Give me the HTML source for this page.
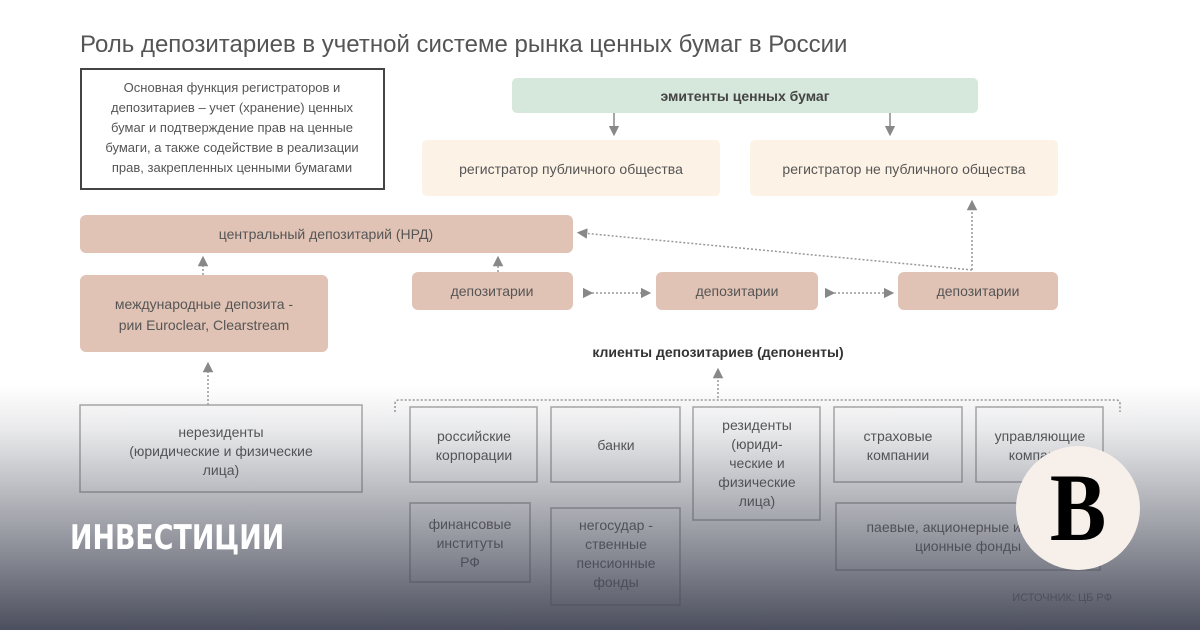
<!DOCTYPE html>
<html><head><meta charset="utf-8"><style>
body{margin:0;width:1200px;height:630px;overflow:hidden;background:#fff;position:relative;font-family:"Liberation Sans","DejaVu Sans",sans-serif}
svg{position:absolute;left:0;top:0}
.ov{position:absolute;left:0;top:0;width:1200px;height:630px;background:linear-gradient(to bottom,rgba(74,77,92,0) 0,rgba(74,77,92,0) 385px,rgba(74,77,92,0.12) 430px,rgba(74,77,92,0.55) 530px,rgba(70,73,88,0.97) 630px)}
.t{position:absolute;left:70px;top:518px;color:#fff;font-weight:bold;font-size:34px;font-family:"DejaVu Sans",sans-serif;transform:scaleX(0.79);transform-origin:0 0;white-space:nowrap}
.c{position:absolute;left:1016px;top:446px;width:124px;height:124px;border-radius:50%;background:#f7efe9;text-align:center;font-family:"Liberation Serif",serif;font-weight:bold;font-size:96px;line-height:124px;color:#000}
.c span{display:inline-block;transform:scaleX(0.88)}
</style></head><body>
<svg width="1200" height="630" font-family="Liberation Sans, DejaVu Sans, sans-serif" fill="#555">
<defs><marker id="a" markerWidth="7" markerHeight="7" refX="3.5" refY="3.5" orient="auto"><path d="M0,0L7,3.5L0,7z" fill="#888"/></marker></defs>
<text x="80" y="52" font-size="24" fill="#555">Роль депозитариев в учетной системе рынка ценных бумаг в России</text>
<rect x="81" y="69" width="303" height="120" fill="#fff" stroke="#444" stroke-width="2"/>
<g font-size="13" text-anchor="middle" fill="#555"><text x="232" y="92">Основная функция регистраторов и</text><text x="232" y="112">депозитариев – учет (хранение) ценных</text><text x="232" y="132">бумаг и подтверждение прав на ценные</text><text x="232" y="152">бумаги, а также содействие в реализации</text><text x="232" y="172">прав, закрепленных ценными бумагами</text></g>
<rect x="512" y="78" width="466" height="35" rx="5" fill="#d6e7dc"/>
<text x="745" y="101" font-size="14" font-weight="bold" text-anchor="middle" fill="#444">эмитенты ценных бумаг</text>
<g stroke="#888" stroke-width="1.5" fill="none"><path d="M614 113V131" marker-end="url(#a)"/><path d="M890 113V131" marker-end="url(#a)"/></g>
<rect x="422" y="140" width="298" height="56" rx="5" fill="#fdf2e6"/><rect x="750" y="140" width="308" height="56" rx="5" fill="#fdf2e6"/>
<g font-size="14" text-anchor="middle" fill="#555"><text x="571" y="174">регистратор публичного общества</text><text x="904" y="174">регистратор не публичного общества</text></g>
<g fill="#e1c3b5"><rect x="80" y="215" width="493" height="38" rx="6"/><rect x="80" y="275" width="248" height="77" rx="6"/><rect x="412" y="272" width="161" height="38" rx="6"/><rect x="656" y="272" width="162" height="38" rx="6"/><rect x="898" y="272" width="160" height="38" rx="6"/></g>
<g font-size="14" text-anchor="middle" fill="#555"><text x="326" y="239">центральный депозитарий (НРД)</text><text x="204" y="309">международные депозита -</text><text x="204" y="330">рии Euroclear, Clearstream</text><text x="492" y="296">депозитарии</text><text x="737" y="296">депозитарии</text><text x="978" y="296">депозитарии</text></g>
<g stroke="#999" stroke-width="1.5" stroke-dasharray="2,2" fill="none">
<path d="M203 275V261" marker-end="url(#a)"/><path d="M498 272V261" marker-end="url(#a)"/><path d="M972 270V205" marker-end="url(#a)"/><path d="M972 270L582 233" marker-end="url(#a)"/>
<path d="M588 293H646" marker-end="url(#a)" marker-start="url(#a)"/><path d="M830 293H889" marker-end="url(#a)" marker-start="url(#a)"/>
<path d="M718 398V373" marker-end="url(#a)"/><path d="M208 405V367" marker-end="url(#a)"/>
<path d="M395 412V404Q395 400 399 400H1116Q1120 400 1120 404V412"/></g>
<text x="718" y="357" font-size="14" font-weight="bold" text-anchor="middle" fill="#333">клиенты депозитариев (депоненты)</text>
<g fill="none" stroke="#aaa" stroke-width="1.5"><rect x="80" y="405" width="282" height="87"/><rect x="410" y="407" width="127" height="75"/><rect x="551" y="407" width="129" height="75"/><rect x="693" y="407" width="127" height="113"/><rect x="834" y="407" width="128" height="75"/><rect x="976" y="407" width="127" height="75"/><rect x="410" y="503" width="120" height="79"/><rect x="551" y="508" width="129" height="97"/><rect x="836" y="503" width="264" height="67"/></g>
<g font-size="14" text-anchor="middle" fill="#555">
<text x="221" y="437">нерезиденты</text><text x="221" y="456">(юридические и физические</text><text x="221" y="475">лица)</text>
<text x="474" y="441">российские</text><text x="474" y="460">корпорации</text><text x="616" y="450">банки</text>
<text x="757" y="430">резиденты</text><text x="757" y="449">(юриди-</text><text x="757" y="468">ческие и</text><text x="757" y="487">физические</text><text x="757" y="506">лица)</text>
<text x="898" y="441">страховые</text><text x="898" y="460">компании</text><text x="1040" y="441">управляющие</text><text x="1040" y="460">компании</text>
<text x="470" y="529">финансовые</text><text x="470" y="548">институты</text><text x="470" y="567">РФ</text>
<text x="616" y="530">негосудар -</text><text x="616" y="549">ственные</text><text x="616" y="568">пенсионные</text><text x="616" y="587">фонды</text>
<text x="968" y="532">паевые, акционерные инвести-</text><text x="968" y="551">ционные фонды</text></g>
<text x="1112" y="601" font-size="11" text-anchor="end" fill="#666">ИСТОЧНИК: ЦБ РФ</text>
</svg>
<div class="ov"></div>
<div class="t">ИНВЕСТИЦИИ</div>
<div class="c"><span>В</span></div>
</body></html>
